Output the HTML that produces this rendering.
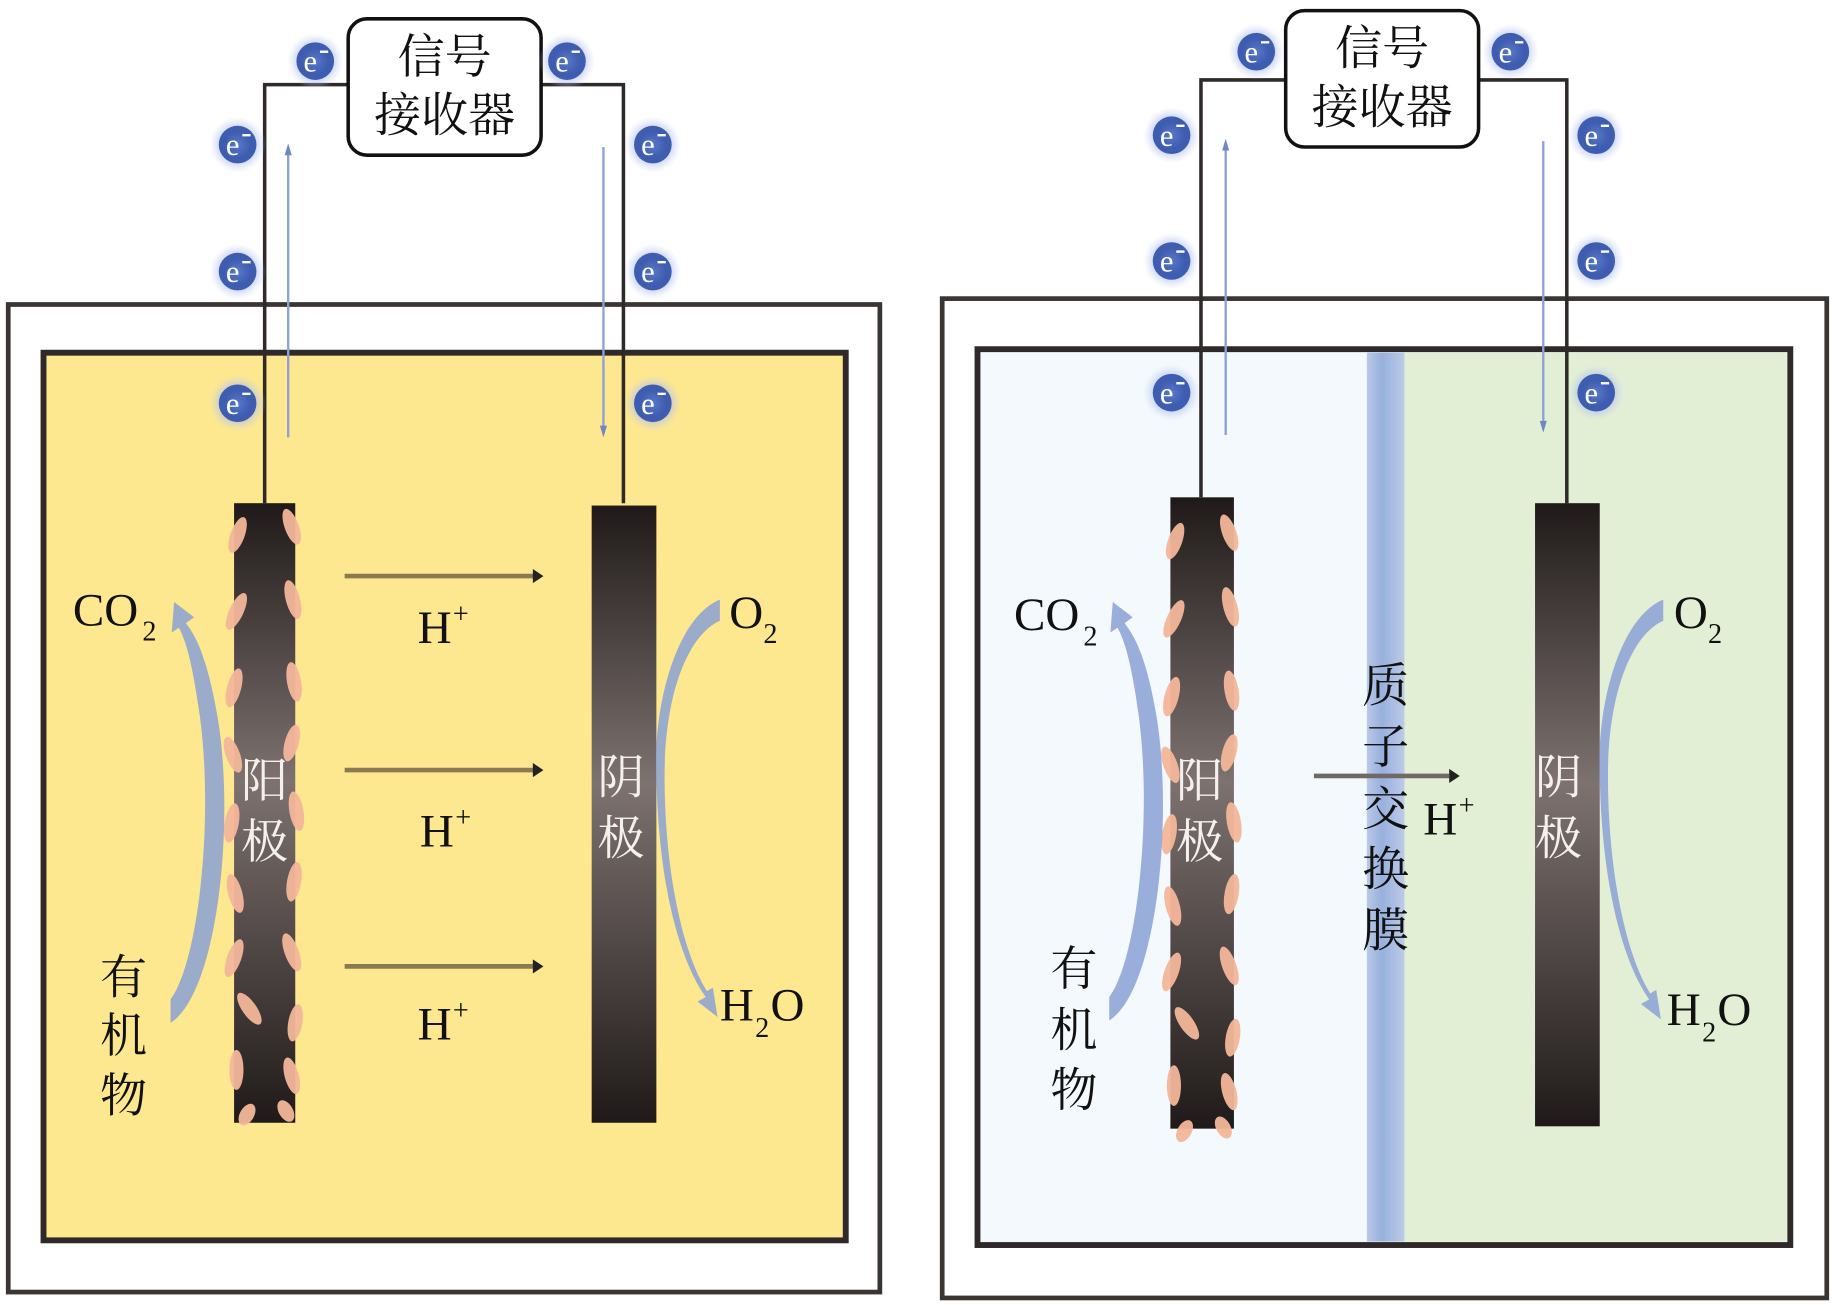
<!DOCTYPE html>
<html><head><meta charset="utf-8"><style>
html,body{margin:0;padding:0;background:#fff;}
svg{display:block;}
text{font-family:"Liberation Serif","Noto Serif CJK SC",serif;fill:#111;}
.cj{font-family:"Liberation Serif","Noto Serif CJK SC","Noto Sans CJK SC",serif;}
</style></head><body>
<svg width="1835" height="1305" viewBox="0 0 1560 1110" preserveAspectRatio="none" xmlns="http://www.w3.org/2000/svg">
<defs>
<radialGradient id="eg" cx="0.5" cy="0.5" r="0.5">
<stop offset="0" stop-color="#5a78c8"/><stop offset="0.7" stop-color="#3f5db0"/><stop offset="1" stop-color="#3f5db0"/>
</radialGradient>
<radialGradient id="glow" cx="0.5" cy="0.5" r="0.5">
<stop offset="0.5" stop-color="#9fb3e6" stop-opacity="0.8"/><stop offset="1" stop-color="#c8d4f2" stop-opacity="0"/>
</radialGradient>
<linearGradient id="elec" x1="0" y1="0" x2="0" y2="1">
<stop offset="0" stop-color="#1f1a19"/><stop offset="0.45" stop-color="#7d7270"/><stop offset="1" stop-color="#1f1a19"/>
</linearGradient>
<linearGradient id="mem" x1="0" y1="0" x2="1" y2="0">
<stop offset="0" stop-color="#b9c9e8"/><stop offset="0.4" stop-color="#98b0dd"/><stop offset="1" stop-color="#bccbe8"/>
</linearGradient>
<g id="e">
<circle r="24" fill="url(#glow)"/>
<circle r="16" fill="url(#eg)"/>
<text x="-10" y="9" font-size="26" style="fill:#fff">e</text>
<rect x="4" y="-9" width="7" height="2" fill="#fff"/>
</g>
<g id="blobs" fill="#f4b79a" opacity="0.95">
<ellipse cx="202" cy="455" rx="6" ry="16" transform="rotate(20 202 455)"/>
<ellipse cx="248" cy="448" rx="6" ry="16" transform="rotate(-20 248 448)"/>
<ellipse cx="201" cy="520" rx="6" ry="17" transform="rotate(25 201 520)"/>
<ellipse cx="249" cy="510" rx="6" ry="17" transform="rotate(-15 249 510)"/>
<ellipse cx="199" cy="585" rx="6" ry="17" transform="rotate(15 199 585)"/>
<ellipse cx="250" cy="580" rx="6" ry="17" transform="rotate(-10 250 580)"/>
<ellipse cx="198" cy="642" rx="6" ry="16" transform="rotate(-20 198 642)"/>
<ellipse cx="248" cy="632" rx="6" ry="16" transform="rotate(15 248 632)"/>
<ellipse cx="197" cy="700" rx="6" ry="17" transform="rotate(10 197 700)"/>
<ellipse cx="252" cy="690" rx="6" ry="17" transform="rotate(-10 252 690)"/>
<ellipse cx="200" cy="760" rx="6" ry="17" transform="rotate(-15 200 760)"/>
<ellipse cx="250" cy="750" rx="6" ry="17" transform="rotate(10 250 750)"/>
<ellipse cx="199" cy="815" rx="6" ry="17" transform="rotate(20 199 815)"/>
<ellipse cx="248" cy="810" rx="6" ry="17" transform="rotate(-20 248 810)"/>
<ellipse cx="212" cy="858" rx="6" ry="16" transform="rotate(-35 212 858)"/>
<ellipse cx="251" cy="870" rx="6" ry="16" transform="rotate(10 251 870)"/>
<ellipse cx="201" cy="910" rx="6" ry="17" transform="rotate(0 201 910)"/>
<ellipse cx="248" cy="915" rx="6" ry="16" transform="rotate(-15 248 915)"/>
<ellipse cx="210" cy="948" rx="6" ry="10" transform="rotate(30 210 948)"/>
<ellipse cx="243" cy="945" rx="6" ry="10" transform="rotate(-30 243 945)"/>
</g>
</defs>

<!-- LEFT PANEL -->
<rect x="7" y="259" width="741" height="840" fill="#fff" stroke="#3a3433" stroke-width="4"/>
<rect x="37" y="300" width="682" height="755" fill="#fde78f" stroke="#2f2a29" stroke-width="5"/>
<path d="M225 428 V72 H297 M460 72 H530 V428" fill="none" stroke="#2f2a29" stroke-width="3"/>
<rect x="296" y="16" width="164" height="116" rx="16" fill="#fff" stroke="#111" stroke-width="3"/>
<text x="378" y="62" font-size="40" text-anchor="middle" class="cj">信号</text>
<text x="378" y="112" font-size="40" text-anchor="middle" class="cj">接收器</text>
<line x1="245" y1="372" x2="245" y2="130" stroke="#8ea1d4" stroke-width="2"/>
<path d="M245 122 l-3 10 h6z" fill="#6f86c4"/>
<line x1="513" y1="125" x2="513" y2="364" stroke="#8ea1d4" stroke-width="2"/>
<path d="M513 372 l-3 -10 h6z" fill="#6f86c4"/>
<use href="#e" x="268" y="52"/><use href="#e" x="482" y="52"/>
<use href="#e" x="202" y="123"/><use href="#e" x="555" y="123"/>
<use href="#e" x="202" y="231"/><use href="#e" x="555" y="231"/>
<use href="#e" x="202" y="343"/><use href="#e" x="555" y="343"/>
<rect x="199" y="428" width="52" height="527" fill="url(#elec)"/>
<use href="#blobs"/>
<rect x="503" y="430" width="55" height="525" fill="url(#elec)"/>
<g stroke="#8a7a52" stroke-width="4"><line x1="293" y1="490" x2="455" y2="490"/><line x1="293" y1="655" x2="455" y2="655"/><line x1="293" y1="822" x2="455" y2="822"/></g>
<g fill="#222"><path d="M462 490 l-9 -6 v12z"/><path d="M462 655 l-9 -6 v12z"/><path d="M462 822 l-9 -6 v12z"/></g>
<text x="355" y="547" font-size="40">H</text><text x="385" y="530" font-size="24">+</text>
<text x="357" y="720" font-size="40">H</text><text x="387" y="703" font-size="24">+</text>
<text x="355" y="884" font-size="40">H</text><text x="385" y="867" font-size="24">+</text>
<path d="M145 870 C185 845 200 700 185 610 C178 570 170 545 158 530 L165 525 L148 512 L146 538 L152 534 C160 548 165 575 170 610 C182 700 168 820 145 850 Z" fill="#8aa1d6" opacity="0.85"/>
<path d="M612 510 C575 525 555 600 558 660 C560 760 580 820 600 848 L593 852 L610 865 L606 840 L601 843 C580 810 565 740 565 660 C565 590 585 540 612 528 Z" fill="#8aa1d6" opacity="0.85"/>
<text x="62" y="532" font-size="40">CO</text><text x="121" y="545" font-size="24">2</text>
<text x="620" y="534" font-size="40">O</text><text x="649" y="547" font-size="24">2</text>
<text x="612" y="868" font-size="40">H</text><text x="642" y="882" font-size="24">2</text><text x="655" y="868" font-size="40">O</text>
<text x="105" y="845" font-size="40" text-anchor="middle" class="cj">有</text>
<text x="105" y="895" font-size="40" text-anchor="middle" class="cj">机</text>
<text x="105" y="946" font-size="40" text-anchor="middle" class="cj">物</text>
<text x="225" y="678" font-size="40" text-anchor="middle" class="cj" style="fill:#f4f0ee">阳</text>
<text x="225" y="730" font-size="40" text-anchor="middle" class="cj" style="fill:#f4f0ee">极</text>
<text x="528" y="675" font-size="40" text-anchor="middle" class="cj" style="fill:#f4f0ee">阴</text>
<text x="528" y="727" font-size="40" text-anchor="middle" class="cj" style="fill:#f4f0ee">极</text>

<!-- RIGHT PANEL -->
<rect x="801" y="254" width="752" height="850" fill="#fff" stroke="#3a3433" stroke-width="4"/>
<rect x="831" y="297" width="691" height="762" fill="#f3f9fc" stroke="#2f2a29" stroke-width="5"/>
<rect x="1193" y="300" width="326" height="756" fill="#e3efd4"/>
<rect x="1162" y="300" width="32" height="756" fill="url(#mem)"/>
<path d="M1021 423 V68 H1094 M1257 68 H1332 V428" fill="none" stroke="#2f2a29" stroke-width="3"/>
<rect x="1093" y="9" width="164" height="116" rx="16" fill="#fff" stroke="#111" stroke-width="3"/>
<text x="1175" y="55" font-size="40" text-anchor="middle" class="cj">信号</text>
<text x="1175" y="105" font-size="40" text-anchor="middle" class="cj">接收器</text>
<line x1="1042" y1="370" x2="1042" y2="126" stroke="#8ea1d4" stroke-width="2"/>
<path d="M1042 118 l-3 10 h6z" fill="#6f86c4"/>
<line x1="1312" y1="120" x2="1312" y2="360" stroke="#8ea1d4" stroke-width="2"/>
<path d="M1312 368 l-3 -10 h6z" fill="#6f86c4"/>
<use href="#e" x="1068" y="44"/><use href="#e" x="1284" y="44"/>
<use href="#e" x="996" y="115"/><use href="#e" x="1357" y="115"/>
<use href="#e" x="996" y="222"/><use href="#e" x="1357" y="222"/>
<use href="#e" x="996" y="334"/><use href="#e" x="1357" y="334"/>
<rect x="995" y="423" width="54" height="537" fill="url(#elec)"/>
<use href="#blobs" transform="translate(797 -3) scale(1 1.018)"/>
<rect x="1305" y="428" width="55" height="530" fill="url(#elec)"/>
<text x="1178" y="597" font-size="40" text-anchor="middle" class="cj">质</text>
<text x="1178" y="649" font-size="40" text-anchor="middle" class="cj">子</text>
<text x="1178" y="702" font-size="40" text-anchor="middle" class="cj">交</text>
<text x="1178" y="753" font-size="40" text-anchor="middle" class="cj">换</text>
<text x="1178" y="805" font-size="40" text-anchor="middle" class="cj">膜</text>
<line x1="1117" y1="660" x2="1232" y2="660" stroke="#6f6a66" stroke-width="4"/>
<path d="M1241 660 l-9 -6 v12z" fill="#222"/>
<text x="1210" y="710" font-size="40">H</text><text x="1240" y="693" font-size="24">+</text>
<path d="M943 868 C983 843 998 698 983 608 C976 568 968 545 956 530 L963 525 L946 512 L944 538 L950 534 C958 548 963 573 968 608 C980 698 966 818 943 848 Z" fill="#8aa1d6" opacity="0.85"/>
<path d="M1414 510 C1377 525 1357 600 1360 660 C1362 760 1382 822 1402 850 L1395 854 L1412 867 L1408 842 L1403 845 C1382 812 1367 740 1367 660 C1367 590 1387 540 1414 528 Z" fill="#8aa1d6" opacity="0.85"/>
<text x="862" y="536" font-size="40">CO</text><text x="921" y="549" font-size="24">2</text>
<text x="1423" y="534" font-size="40">O</text><text x="1452" y="547" font-size="24">2</text>
<text x="1417" y="872" font-size="40">H</text><text x="1447" y="886" font-size="24">2</text><text x="1460" y="872" font-size="40">O</text>
<text x="913" y="838" font-size="40" text-anchor="middle" class="cj">有</text>
<text x="913" y="890" font-size="40" text-anchor="middle" class="cj">机</text>
<text x="913" y="941" font-size="40" text-anchor="middle" class="cj">物</text>
<text x="1020" y="678" font-size="40" text-anchor="middle" class="cj" style="fill:#f4f0ee">阳</text>
<text x="1020" y="730" font-size="40" text-anchor="middle" class="cj" style="fill:#f4f0ee">极</text>
<text x="1325" y="675" font-size="40" text-anchor="middle" class="cj" style="fill:#f4f0ee">阴</text>
<text x="1325" y="727" font-size="40" text-anchor="middle" class="cj" style="fill:#f4f0ee">极</text>
</svg>
</body></html>
